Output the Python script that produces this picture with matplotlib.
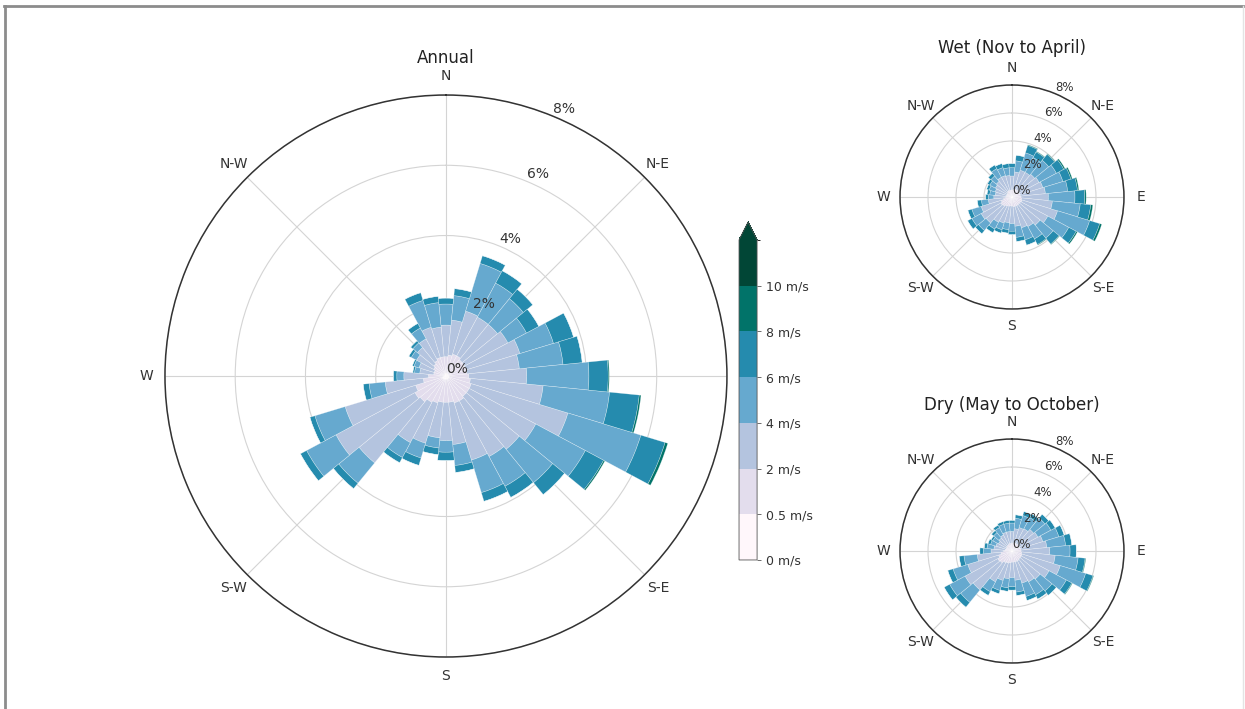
import numpy as np
import matplotlib.pyplot as plt
from matplotlib.colors import ListedColormap, BoundaryNorm
from matplotlib.cm import ScalarMappable
from matplotlib.lines import Line2D

# 32 direction sectors, clockwise from north
directions = np.arange(32) * 11.25
speed_bins = [0, 0.5, 2, 4, 6, 8, 10]
dir_labels = ["N", "N-E", "E", "S-E", "S", "S-W", "W", "N-W"]

# cumulative frequency (%) up to each speed class
annual_05 = [0.08, 0.08, 0.09, 0.09, 0.08, 0.08, 0.08, 0.08, 0.09, 0.10, 0.10, 0.10,
             0.10, 0.10, 0.10, 0.10, 0.10, 0.10, 0.10, 0.11, 0.12, 0.12, 0.11, 0.09,
             0.07, 0.05, 0.05, 0.06, 0.06, 0.07, 0.08, 0.08]
annual_2 = [0.55, 0.60, 0.65, 0.65, 0.60, 0.60, 0.60, 0.60, 0.65, 0.70, 0.75, 0.75,
            0.75, 0.80, 0.80, 0.75, 0.75, 0.75, 0.80, 0.85, 0.95, 1.00, 0.90, 0.65,
            0.50, 0.35, 0.35, 0.40, 0.45, 0.50, 0.55, 0.55]
annual_4 = [1.45, 1.60, 1.93, 1.90, 1.90, 2.00, 2.20, 2.10, 2.30, 2.78, 3.63, 2.90,
            2.70, 2.60, 2.50, 1.96, 1.84, 1.77, 2.00, 2.15, 3.20, 3.55, 3.00, 1.74,
            1.20, 0.75, 0.80, 0.95, 1.05, 1.20, 1.45, 1.40]
annual_6 = [2.05, 2.30, 3.35, 3.00, 2.85, 2.60, 3.20, 3.35, 4.07, 4.68, 5.80, 4.50,
            3.93, 3.56, 3.47, 2.56, 2.17, 2.06, 2.44, 2.63, 3.95, 4.50, 3.90, 2.20,
            1.40, 0.90, 0.95, 1.12, 1.22, 1.55, 2.25, 2.10]
annual_8 = [2.22, 2.50, 3.58, 3.40, 3.20, 3.00, 3.80, 3.90, 4.62, 5.53, 6.52, 5.09,
            4.37, 3.92, 3.73, 2.76, 2.41, 2.25, 2.66, 2.80, 4.15, 4.70, 4.05, 2.37,
            1.50, 0.95, 1.00, 1.20, 1.30, 1.70, 2.48, 2.28]
annual_10 = [2.22, 2.50, 3.58, 3.40, 3.20, 3.00, 3.80, 3.90, 4.65, 5.58, 6.60, 5.13,
             4.37, 3.92, 3.73, 2.76, 2.41, 2.25, 2.66, 2.80, 4.15, 4.70, 4.05, 2.37,
             1.50, 0.95, 1.00, 1.20, 1.30, 1.70, 2.48, 2.28]

wet_05 = [0.08, 0.08, 0.09, 0.09, 0.09, 0.09, 0.09, 0.09, 0.10, 0.10, 0.11, 0.10,
          0.10, 0.10, 0.10, 0.10, 0.09, 0.09, 0.10, 0.10, 0.11, 0.12, 0.11, 0.09,
          0.07, 0.06, 0.06, 0.06, 0.07, 0.07, 0.08, 0.08]
wet_2 = [0.50, 0.55, 0.60, 0.60, 0.60, 0.60, 0.60, 0.60, 0.65, 0.70, 0.75, 0.70,
         0.70, 0.70, 0.70, 0.70, 0.65, 0.65, 0.70, 0.75, 0.85, 0.90, 0.80, 0.60,
         0.45, 0.40, 0.40, 0.40, 0.45, 0.50, 0.50, 0.50]
wet_4 = [1.50, 1.80, 2.00, 2.00, 2.10, 2.20, 2.30, 2.40, 2.60, 2.90, 3.40, 2.90,
         2.60, 2.40, 2.30, 2.10, 1.90, 1.85, 1.95, 2.05, 2.40, 2.50, 2.30, 1.70,
         1.30, 1.20, 1.25, 1.35, 1.45, 1.60, 1.60, 1.55]
wet_6 = [2.10, 2.60, 3.30, 3.20, 3.40, 3.60, 3.80, 4.00, 4.50, 4.90, 5.80, 4.60,
         3.80, 3.40, 3.20, 2.90, 2.45, 2.35, 2.45, 2.60, 3.10, 3.25, 3.00, 2.20,
         1.70, 1.60, 1.70, 1.80, 1.95, 2.30, 2.20, 2.10]
wet_8 = [2.40, 3.00, 3.85, 3.65, 3.95, 4.20, 4.40, 4.70, 5.20, 5.65, 6.55, 5.20,
         4.35, 3.85, 3.60, 3.20, 2.70, 2.60, 2.70, 2.90, 3.40, 3.60, 3.30, 2.50,
         1.90, 1.80, 1.90, 2.00, 2.20, 2.60, 2.50, 2.40]
wet_10 = [2.40, 3.00, 3.90, 3.70, 4.00, 4.30, 4.50, 4.80, 5.30, 5.80, 6.70, 5.30,
          4.40, 3.90, 3.60, 3.20, 2.70, 2.60, 2.70, 2.90, 3.40, 3.60, 3.30, 2.50,
          1.90, 1.80, 1.90, 2.00, 2.20, 2.60, 2.50, 2.40]

dry_05 = [0.08, 0.08, 0.08, 0.08, 0.08, 0.08, 0.08, 0.09, 0.09, 0.10, 0.10, 0.10,
          0.10, 0.10, 0.10, 0.10, 0.10, 0.10, 0.11, 0.12, 0.13, 0.13, 0.12, 0.10,
          0.08, 0.07, 0.07, 0.07, 0.07, 0.07, 0.08, 0.08]
dry_2 = [0.55, 0.60, 0.60, 0.60, 0.60, 0.60, 0.60, 0.65, 0.65, 0.70, 0.75, 0.75,
         0.75, 0.80, 0.80, 0.80, 0.80, 0.85, 0.90, 0.95, 1.10, 1.15, 1.00, 0.80,
         0.60, 0.50, 0.45, 0.45, 0.50, 0.50, 0.55, 0.55]
dry_4 = [1.40, 1.60, 1.75, 1.80, 2.00, 2.10, 2.30, 2.50, 2.70, 3.10, 3.60, 3.00,
         2.60, 2.50, 2.40, 2.10, 1.90, 2.00, 2.20, 2.50, 3.60, 3.80, 3.30, 2.50,
         1.50, 1.30, 1.20, 1.10, 1.20, 1.30, 1.40, 1.40]
dry_6 = [2.00, 2.35, 2.65, 2.70, 3.05, 3.15, 3.50, 3.85, 4.15, 4.75, 5.50, 4.40,
         3.70, 3.55, 3.40, 2.95, 2.55, 2.65, 2.95, 3.30, 4.75, 5.05, 4.40, 3.45,
         2.05, 1.80, 1.60, 1.55, 1.70, 1.90, 2.00, 2.00]
dry_8 = [2.20, 2.60, 2.95, 3.00, 3.40, 3.50, 3.90, 4.30, 4.60, 5.25, 6.05, 4.85,
         4.10, 3.90, 3.70, 3.20, 2.80, 2.90, 3.20, 3.60, 5.20, 5.50, 4.80, 3.80,
         2.30, 2.00, 1.80, 1.70, 1.90, 2.10, 2.20, 2.20]
dry_10 = [2.20, 2.60, 2.95, 3.00, 3.40, 3.50, 3.90, 4.30, 4.60, 5.30, 6.10, 4.90,
          4.10, 3.90, 3.70, 3.20, 2.80, 2.90, 3.20, 3.60, 5.20, 5.50, 4.80, 3.80,
          2.30, 2.00, 1.80, 1.70, 1.90, 2.10, 2.20, 2.20]

colors = plt.cm.PuBuGn(np.linspace(0, 1, len(speed_bins)))


def windrose(ax, levels, title, title_y, rfont, pad):
    theta = np.deg2rad(directions)
    width = np.deg2rad(11.25)
    bottom = np.zeros(len(directions))
    for i, lev in enumerate(levels):
        lev = np.asarray(lev)
        ax.bar(theta, lev - bottom, width=width, bottom=bottom, color=colors[i],
               edgecolor=(1, 1, 1, 0.5), linewidth=0.35, zorder=2)
        bottom = lev

    ax.set_theta_zero_location("N")
    ax.set_theta_direction(-1)
    ax.set_ylim(0, 8)
    ax.set_yticks([0, 2, 4, 6, 8])
    ax.set_yticklabels([])
    ax.set_xticks(np.deg2rad(np.arange(0, 360, 45)))
    ax.set_xticklabels(dir_labels, fontsize=10, color="#333333")
    ax.tick_params(axis="x", pad=pad)
    ax.grid(color="#d4d4d4", linewidth=0.8)
    ax.set_axisbelow(True)
    ax.spines["polar"].set_color("#333333")
    ax.spines["polar"].set_linewidth(1.1)
    for r in [0, 2, 4, 6, 8]:
        ax.text(np.deg2rad(22.5), r, f"{r}%", ha="left", va="bottom",
                fontsize=rfont, color="#333333", zorder=10)
    ax.set_title(title, fontsize=12, y=title_y, pad=0, color="#222222")


fig = plt.figure(figsize=(12.45, 7.09), dpi=100)

ax_main = fig.add_axes([0.1325, 0.0733, 0.4514, 0.7927], projection="polar")
windrose(ax_main, [annual_05, annual_2, annual_4, annual_6, annual_8, annual_10],
         "Annual", 1.057, 10, 3)

ax_wet = fig.add_axes([0.7229, 0.5642, 0.1799, 0.3159], projection="polar")
windrose(ax_wet, [wet_05, wet_2, wet_4, wet_6, wet_8, wet_10],
         "Wet (Nov to April)", 1.145, 8.5, 1.5)

ax_dry = fig.add_axes([0.7229, 0.0649, 0.1799, 0.3159], projection="polar")
windrose(ax_dry, [dry_05, dry_2, dry_4, dry_6, dry_8, dry_10],
         "Dry (May to October)", 1.13, 8.5, 1.5)

# colour legend
cmap = ListedColormap(colors).with_extremes(over=colors[-1])
norm = BoundaryNorm(speed_bins + [12], cmap.N)
cax = fig.add_axes([0.5936, 0.2102, 0.0145, 0.4767])
cb = fig.colorbar(ScalarMappable(norm=norm, cmap=cmap), cax=cax, extend="max",
                  extendfrac=0.056, spacing="uniform", ticks=speed_bins)
cb.ax.set_yticklabels([f"{b:g} m/s" for b in speed_bins], fontsize=9, color="#333333")
cb.ax.tick_params(length=3, width=0.6, color="#555555")
cb.outline.set_edgecolor("#555555")
cb.outline.set_linewidth(0.6)

# frame of the original screenshot
fig.add_artist(Line2D([0.003, 0.998], [0.992, 0.992], color="#8c8c8c", lw=2))
fig.add_artist(Line2D([0.004, 0.004], [0.0, 0.992], color="#8c8c8c", lw=2))
fig.add_artist(Line2D([0.998, 0.998], [0.0, 0.992], color="#e4e4e4", lw=1))

fig.savefig("out.png", dpi=100)
